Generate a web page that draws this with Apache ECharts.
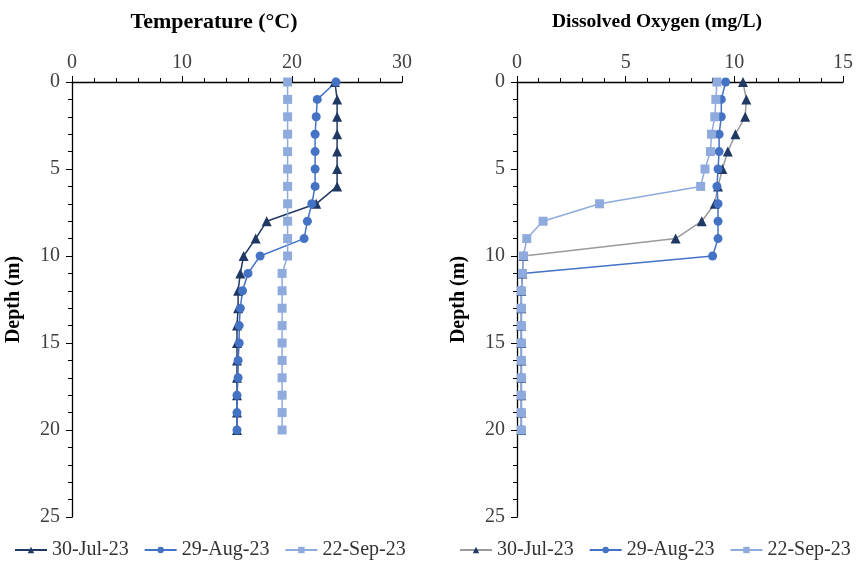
<!DOCTYPE html>
<html>
<head>
<meta charset="utf-8">
<script src="https://cdn.jsdelivr.net/npm/echarts@6/dist/echarts.min.js"></script>
<style>
  html, body { margin: 0; padding: 0; background: #fff; }
  #chart { width: 856px; height: 567px; }
</style>
</head>
<body>
<div id="chart"></div>
<script>
// depth of each sample (m)
var depths = [0, 1, 2, 3, 4, 5, 6, 7, 8, 9, 10, 11, 12, 13, 14, 15, 16, 17, 18, 19, 20];
var seriesNames = ['30-Jul-23', '29-Aug-23', '22-Sep-23'];

// temperature (°C)
var tempJul = [23.9, 24.1, 24.1, 24.1, 24.1, 24.1, 24.1, 22.2, 17.7, 16.7, 15.6, 15.3, 15.1, 15.1, 15.0, 15.0, 15.0, 15.0, 15.0, 15.0, 15.0];
var tempAug = [24.0, 22.3, 22.2, 22.1, 22.1, 22.1, 22.1, 21.8, 21.4, 21.1, 17.1, 16.0, 15.5, 15.3, 15.2, 15.2, 15.1, 15.1, 15.0, 15.0, 15.0];
var tempSep = [19.6, 19.6, 19.6, 19.6, 19.6, 19.6, 19.6, 19.6, 19.6, 19.6, 19.6, 19.1, 19.1, 19.1, 19.1, 19.1, 19.1, 19.1, 19.1, 19.1, 19.1];

// dissolved oxygen (mg/L)
var doJul = [10.4, 10.55, 10.5, 10.05, 9.7, 9.45, 9.25, 9.1, 8.5, 7.3, 0.3, 0.25, 0.2, 0.2, 0.2, 0.2, 0.2, 0.2, 0.2, 0.2, 0.2];
var doAug = [9.6, 9.4, 9.4, 9.3, 9.3, 9.25, 9.2, 9.25, 9.25, 9.25, 9.0, 0.25, 0.2, 0.2, 0.2, 0.2, 0.2, 0.2, 0.2, 0.2, 0.2];
var doSep = [9.2, 9.15, 9.1, 8.95, 8.9, 8.65, 8.45, 3.8, 1.2, 0.45, 0.3, 0.25, 0.2, 0.2, 0.2, 0.2, 0.2, 0.2, 0.2, 0.2, 0.2];

// axis ticks
var tempTicks = { min: 0, max: 30, interval: 10 };
var doTicks = { min: 0, max: 15, interval: 5 };
var depthTicks = { min: 0, max: 25, interval: 5 };

var navy = '#203864', blue = '#4472c4', light = '#8faadc';
var serif = '"Liberation Serif", "Times New Roman", serif';

function pairs(xs) {
	var out = [];
	for (var i = 0; i < depths.length; i++) {
		out.push([xs[i], depths[i]]);
	}
	return out;
}

function xAxisOf(idx, t) {
	return {
		gridIndex: idx,
		type: 'value',
		position: 'top',
		min: t.min, max: t.max, interval: t.interval,
		axisLine: { show: true, lineStyle: { color: '#000', width: 1.3 } },
		axisTick: { show: true, length: 6, lineStyle: { color: '#000' } },
		minorTick: { show: true, splitNumber: 5, length: 4, lineStyle: { color: '#000' } },
		splitLine: { show: false },
		axisLabel: { fontFamily: serif, fontSize: 20, color: '#404040', margin: 9 }
	};
}

function yAxisOf(idx) {
	return {
		gridIndex: idx,
		type: 'value',
		inverse: true,
		min: depthTicks.min, max: depthTicks.max, interval: depthTicks.interval,
		name: 'Depth (m)',
		nameLocation: 'middle',
		nameGap: 48,
		nameRotate: 90,
		nameTextStyle: { fontFamily: serif, fontSize: 20, fontWeight: 'bold', color: '#000' },
		axisLine: { show: true, onZero: false, lineStyle: { color: '#000', width: 1.3 } },
		axisTick: { show: true, length: 6, lineStyle: { color: '#000' } },
		minorTick: { show: true, splitNumber: 5, length: 4, lineStyle: { color: '#000' } },
		splitLine: { show: false },
		axisLabel: { fontFamily: serif, fontSize: 20, color: '#404040', margin: 12 }
	};
}

function lineSeries(name, idx, xs, sym, mColor, lColor) {
	return {
		name: name,
		type: 'line',
		xAxisIndex: idx,
		yAxisIndex: idx,
		data: pairs(xs),
		symbol: sym,
		symbolSize: sym === 'triangle' ? 10 : 9,
		showAllSymbol: true,
		itemStyle: { color: mColor },
		lineStyle: { color: lColor, width: 1.5 },
		emphasis: { disabled: true },
		animation: false
	};
}

var legendBase = {
	itemWidth: 32, itemHeight: 8, itemGap: 15, top: 540, padding: 0, width: 420,
	textStyle: { fontFamily: serif, fontSize: 20, color: '#333' }
};

var myChart = echarts.init(document.getElementById('chart'));

var option = {
	backgroundColor: '#fff',
	title: [
		{ text: 'Temperature (°C)', left: 209, top: 6, textAlign: 'center',
		  textStyle: { fontFamily: serif, fontSize: 22, fontWeight: 'bold', color: '#000' } },
		{ text: 'Dissolved Oxygen (mg/L)', left: 652, top: 7, textAlign: 'center',
		  textStyle: { fontFamily: serif, fontSize: 19.5, fontWeight: 'bold', color: '#000' } }
	],
	legend: [
		Object.assign({}, legendBase, {
			data: seriesNames.map(function (n) { return { name: n }; }), left: 14 }),
		Object.assign({}, legendBase, {
			data: seriesNames.map(function (n) { return { name: n + ' ' }; }), left: 459,
			formatter: function (n) { return n.trim(); } })
	],
	grid: [
		{ left: 72, top: 82, width: 330, height: 435 },
		{ left: 517, top: 82, width: 331, height: 435 }
	],
	xAxis: [xAxisOf(0, tempTicks), xAxisOf(1, doTicks)],
	yAxis: [yAxisOf(0), yAxisOf(1)],
	series: [
		lineSeries(seriesNames[0], 0, tempJul, 'triangle', navy, navy),
		lineSeries(seriesNames[1], 0, tempAug, 'circle', blue, blue),
		lineSeries(seriesNames[2], 0, tempSep, 'rect', light, light),
		// right panel: names carry a trailing space so each legend targets its own panel
		lineSeries(seriesNames[0] + ' ', 1, doJul, 'triangle', navy, '#9a9a9a'),
		lineSeries(seriesNames[1] + ' ', 1, doAug, 'circle', blue, blue),
		lineSeries(seriesNames[2] + ' ', 1, doSep, 'rect', light, light)
	]
};

myChart.setOption(option);
</script>
</body>
</html>
